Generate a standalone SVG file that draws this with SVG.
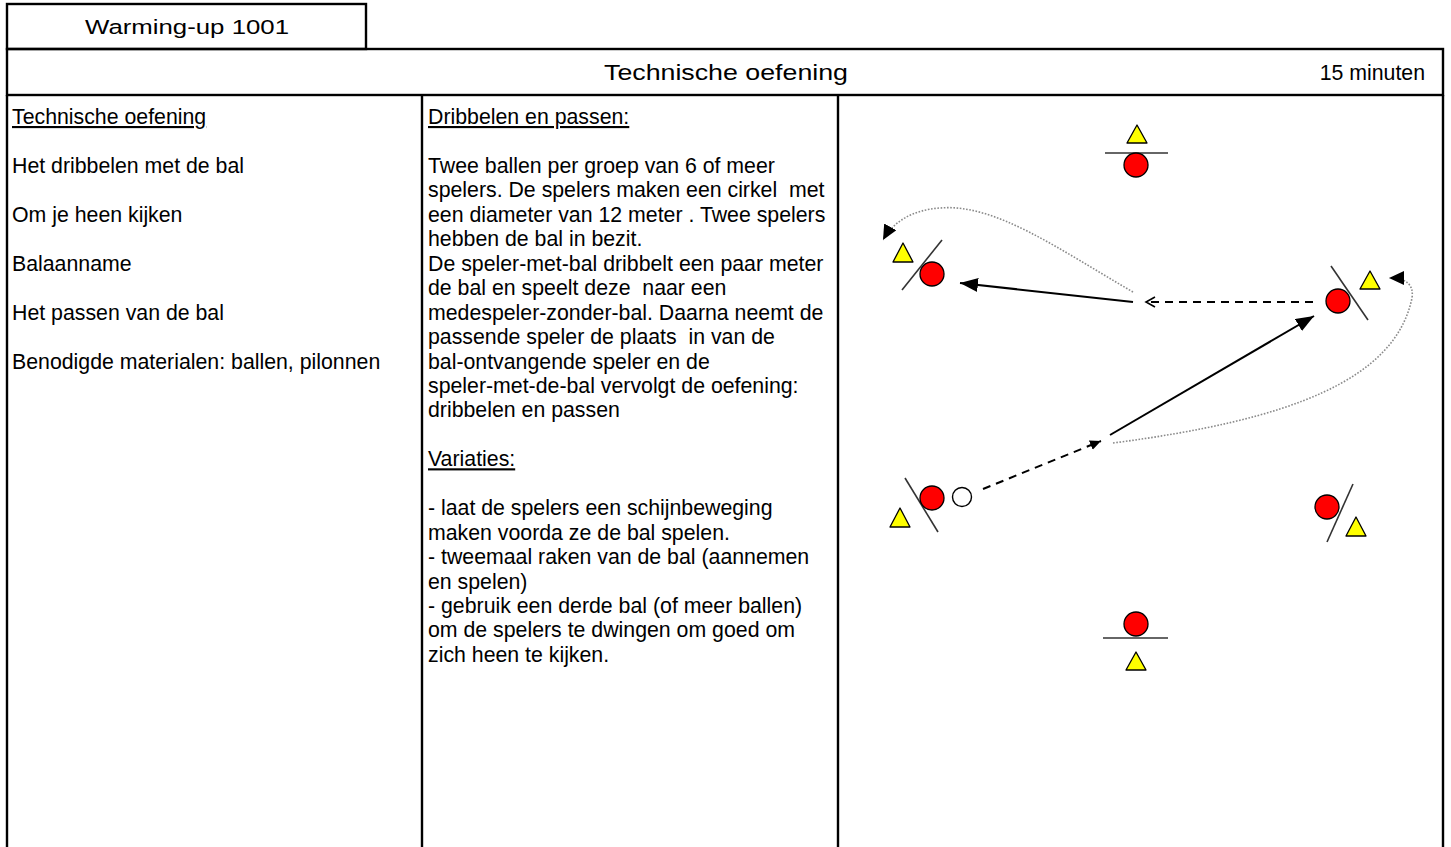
<svg xmlns="http://www.w3.org/2000/svg" width="1451" height="847" viewBox="0 0 1451 847">
<style>
text{font-family:"Liberation Sans",Arial,sans-serif;font-size:21.3px;fill:#000;white-space:pre}
.u{text-decoration:underline}
.frame{fill:none;stroke:#000;stroke-width:2.4}
.sep{stroke:#333;stroke-width:1.6}
.tri{fill:#ffff00;stroke:#000;stroke-width:1.3;stroke-linejoin:round}
.pl{fill:#ff0000;stroke:#000;stroke-width:1.3}
.solid{fill:none;stroke:#000;stroke-width:2}
.dash{fill:none;stroke:#000;stroke-width:2;stroke-dasharray:8 6}
.dot{fill:none;stroke:#8a8a8a;stroke-width:1.6;stroke-dasharray:1.6 1.6}
</style>
<defs>
<marker id="big" markerUnits="userSpaceOnUse" markerWidth="20" markerHeight="16" refX="18" refY="7" orient="auto"><path d="M0,0 L18,7 L0,14 Z" fill="#000"/></marker>
<marker id="mid" markerUnits="userSpaceOnUse" markerWidth="18" markerHeight="16" refX="15" refY="7" orient="auto"><path d="M0,0 L15,7 L0,14 Z" fill="#000"/></marker>
<marker id="small" markerUnits="userSpaceOnUse" markerWidth="14" markerHeight="12" refX="11" refY="5" orient="auto"><path d="M0,0 L11,5 L0,10 Z" fill="#000"/></marker>
<marker id="open" markerUnits="userSpaceOnUse" markerWidth="14" markerHeight="14" refX="10" refY="6" orient="auto"><path d="M1,1 L10,6 L1,11" fill="none" stroke="#000" stroke-width="1.6"/></marker>
</defs>

<g id="frame">
<rect class="frame" x="7" y="4" width="359" height="45"/>
<rect class="frame" x="7" y="49" width="1436" height="46"/>
<line class="frame" x1="7" y1="95" x2="7" y2="847"/>
<line class="frame" x1="422" y1="95" x2="422" y2="847"/>
<line class="frame" x1="838" y1="95" x2="838" y2="847"/>
<line class="frame" x1="1443" y1="95" x2="1443" y2="847"/>
</g>

<g id="headers">
<text x="187" y="34" text-anchor="middle" textLength="204" lengthAdjust="spacingAndGlyphs" style="font-size:20.5px">Warming-up 1001</text>
<text x="726" y="80" text-anchor="middle" textLength="244" lengthAdjust="spacingAndGlyphs">Technische oefening</text>
<text x="1425" y="80" text-anchor="end">15 minuten</text>
</g>

<g id="col-left">
<text x="12" y="124" class="u">Technische oefening</text>
<text x="12" y="172.9">Het dribbelen met de bal</text>
<text x="12" y="221.8">Om je heen kijken</text>
<text x="12" y="270.7">Balaanname</text>
<text x="12" y="319.6">Het passen van de bal</text>
<text x="12" y="368.5">Benodigde materialen: ballen, pilonnen</text>
</g>

<g id="col-mid">
<text x="428" y="124" class="u">Dribbelen en passen:</text>
<text x="428" y="172.9">Twee ballen per groep van 6 of meer</text>
<text x="428" y="197.35">spelers. De spelers maken een cirkel  met</text>
<text x="428" y="221.8">een diameter van 12 meter . Twee spelers</text>
<text x="428" y="246.25">hebben de bal in bezit.</text>
<text x="428" y="270.7">De speler-met-bal dribbelt een paar meter</text>
<text x="428" y="295.15">de bal en speelt deze  naar een</text>
<text x="428" y="319.6">medespeler-zonder-bal. Daarna neemt de</text>
<text x="428" y="344.05">passende speler de plaats  in van de</text>
<text x="428" y="368.5">bal-ontvangende speler en de</text>
<text x="428" y="392.95">speler-met-de-bal vervolgt de oefening:</text>
<text x="428" y="417.4">dribbelen en passen</text>
<text x="428" y="466.3" class="u">Variaties:</text>
<text x="428" y="515.2">- laat de spelers een schijnbeweging</text>
<text x="428" y="539.65">maken voorda ze de bal spelen.</text>
<text x="428" y="564.1">- tweemaal raken van de bal (aannemen</text>
<text x="428" y="588.55">en spelen)</text>
<text x="428" y="613">- gebruik een derde bal (of meer ballen)</text>
<text x="428" y="637.45">om de spelers te dwingen om goed om</text>
<text x="428" y="661.9">zich heen te kijken.</text>
</g>

<g id="connectors">
<path class="dot" d="M1133,292 C1060,250 995,203 940,208 C912,210 893,222 883,240" marker-end="url(#mid)"/>
<path class="solid" d="M1133,302 L960,283" marker-end="url(#big)"/>
<path class="dash" d="M1313,302 L1146,302" marker-end="url(#open)"/>
<path class="dot" d="M1113,443 C1290,420 1395,380 1412,298 Q1415,278 1389,278" marker-end="url(#mid)"/>
<path class="solid" d="M1110,435 L1314,316" marker-end="url(#big)"/>
<path class="dash" d="M983,489 L1101,441" marker-end="url(#small)"/>
</g>

<g id="player-top">
<polygon class="tri" points="1137,125 1147,143 1127,143"/>
<line class="sep" x1="1105" y1="153" x2="1168" y2="153"/>
<circle class="pl" cx="1136" cy="165" r="12"/>
</g>

<g id="player-upper-left">
<polygon class="tri" points="903,243 913,262 893,262"/>
<line class="sep" x1="942" y1="240" x2="902" y2="290"/>
<circle class="pl" cx="932" cy="274" r="12"/>
</g>

<g id="player-right">
<circle class="pl" cx="1338" cy="301" r="12"/>
<line class="sep" x1="1331" y1="266" x2="1368" y2="320"/>
<polygon class="tri" points="1370,271 1380,289 1360,289"/>
</g>

<g id="player-lower-left">
<polygon class="tri" points="900,508 910,527 890,527"/>
<line class="sep" x1="905" y1="478" x2="938" y2="532"/>
<circle class="pl" cx="932" cy="498" r="12"/>
<circle cx="962" cy="497" r="9.5" fill="#fff" stroke="#000" stroke-width="1.4"/>
</g>

<g id="player-lower-right">
<circle class="pl" cx="1327" cy="507" r="12"/>
<line class="sep" x1="1353" y1="484" x2="1327" y2="542"/>
<polygon class="tri" points="1356,517 1366,536 1346,536"/>
</g>

<g id="player-bottom">
<circle class="pl" cx="1136" cy="624" r="12"/>
<line class="sep" x1="1103" y1="638" x2="1168" y2="638"/>
<polygon class="tri" points="1136,652 1146,670 1126,670"/>
</g>
</svg>
